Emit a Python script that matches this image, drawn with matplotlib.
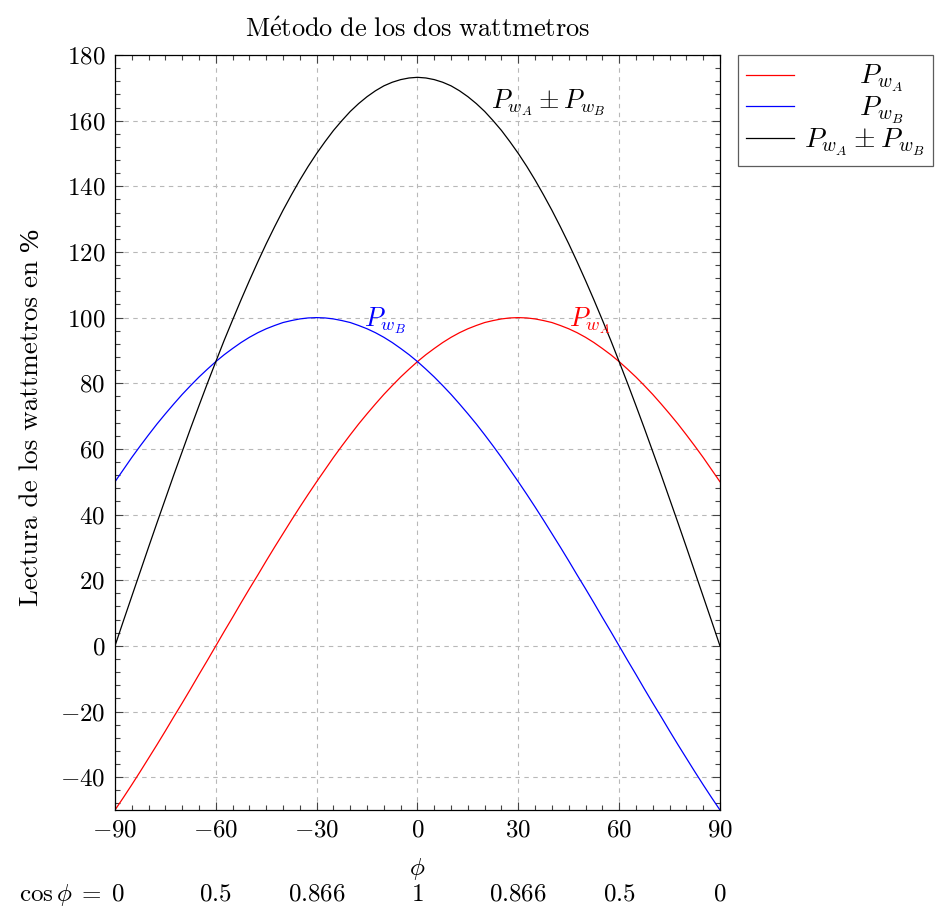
import matplotlib
matplotlib.use('Agg')
import matplotlib.pyplot as plt
import matplotlib.transforms as mtransforms
from matplotlib.ticker import MultipleLocator

plt.rcParams['mathtext.fontset'] = 'cm'
plt.rcParams['font.family'] = 'serif'
plt.rcParams['font.serif'] = ['cmr10']
plt.rcParams['axes.formatter.use_mathtext'] = True

# angle phi (degrees), read every 2.5 degrees
phi = [-90, -87.5, -85, -82.5, -80, -77.5, -75, -72.5, -70, -67.5, -65, -62.5,
       -60, -57.5, -55, -52.5, -50, -47.5, -45, -42.5, -40, -37.5, -35, -32.5,
       -30, -27.5, -25, -22.5, -20, -17.5, -15, -12.5, -10, -7.5, -5, -2.5,
       0, 2.5, 5, 7.5, 10, 12.5, 15, 17.5, 20, 22.5, 25, 27.5,
       30, 32.5, 35, 37.5, 40, 42.5, 45, 47.5, 50, 52.5, 55, 57.5,
       60, 62.5, 65, 67.5, 70, 72.5, 75, 77.5, 80, 82.5, 85, 87.5, 90]

# wattmeter A reading (%)
p_wa = [-50.0, -46.2, -42.3, -38.3, -34.2, -30.1, -25.9, -21.6, -17.4, -13.1,
        -8.7, -4.4, 0.0, 4.4, 8.7, 13.1, 17.4, 21.6, 25.9, 30.1, 34.2, 38.3,
        42.3, 46.2, 50.0, 53.7, 57.4, 60.9, 64.3, 67.6, 70.7, 73.7, 76.6, 79.3,
        81.9, 84.3, 86.6, 88.7, 90.6, 92.4, 94.0, 95.4, 96.6, 97.6, 98.5, 99.1,
        99.6, 99.9, 100.0, 99.9, 99.6, 99.1, 98.5, 97.6, 96.6, 95.4, 94.0, 92.4,
        90.6, 88.7, 86.6, 84.3, 81.9, 79.3, 76.6, 73.7, 70.7, 67.6, 64.3, 60.9,
        57.4, 53.7, 50.0]

# wattmeter B reading (%)
p_wb = [50.0, 53.7, 57.4, 60.9, 64.3, 67.6, 70.7, 73.7, 76.6, 79.3, 81.9, 84.3,
        86.6, 88.7, 90.6, 92.4, 94.0, 95.4, 96.6, 97.6, 98.5, 99.1, 99.6, 99.9,
        100.0, 99.9, 99.6, 99.1, 98.5, 97.6, 96.6, 95.4, 94.0, 92.4, 90.6, 88.7,
        86.6, 84.3, 81.9, 79.3, 76.6, 73.7, 70.7, 67.6, 64.3, 60.9, 57.4, 53.7,
        50.0, 46.2, 42.3, 38.3, 34.2, 30.1, 25.9, 21.6, 17.4, 13.1, 8.7, 4.4,
        0.0, -4.4, -8.7, -13.1, -17.4, -21.6, -25.9, -30.1, -34.2, -38.3,
        -42.3, -46.2, -50.0]

# sum of both readings (%)
p_sum = [0.0, 7.6, 15.1, 22.6, 30.1, 37.5, 44.8, 52.1, 59.2, 66.3, 73.2, 80.0,
         86.6, 93.1, 99.3, 105.4, 111.3, 117.0, 122.5, 127.7, 132.7, 137.4,
         141.9, 146.1, 150.0, 153.6, 157.0, 160.0, 162.8, 165.2, 167.3, 169.1,
         170.6, 171.7, 172.5, 173.0, 173.2, 173.0, 172.5, 171.7, 170.6, 169.1,
         167.3, 165.2, 162.8, 160.0, 157.0, 153.6, 150.0, 146.1, 141.9, 137.4,
         132.7, 127.7, 122.5, 117.0, 111.3, 105.4, 99.3, 93.1, 86.6, 80.0,
         73.2, 66.3, 59.2, 52.1, 44.8, 37.5, 30.1, 22.6, 15.1, 7.6, 0.0]

xticks = [-90, -60, -30, 0, 30, 60, 90]
cos_labels = ['0', '0.5', '0.866', '1', '0.866', '0.5', '0']

lab_a = r'$P_{w_A}$'
lab_b = r'$P_{w_B}$'
lab_s = r'$P_{w_A} \pm P_{w_B}$'


def main():
    fig = plt.figure(figsize=(9.41, 9.09), dpi=100)
    ax = fig.add_axes([0.1222, 0.1089, 0.6429, 0.8306])

    ax.plot(phi, p_wa, color='red', lw=0.9, label=r'$\qquad\;P_{w_A}$')
    ax.plot(phi, p_wb, color='blue', lw=0.9, label=r'$\qquad\;P_{w_B}$')
    ax.plot(phi, p_sum, color='black', lw=0.9, label=lab_s)

    ax.set_xlim(-90, 90)
    ax.set_ylim(-50, 180)
    ax.set_xticks(xticks)
    ax.xaxis.set_minor_locator(MultipleLocator(5))
    ax.yaxis.set_major_locator(MultipleLocator(20))
    ax.yaxis.set_minor_locator(MultipleLocator(4))
    ax.tick_params(which='both', direction='in', top=True, right=True,
                   labelsize=18, width=0.8, color='#444444')
    ax.tick_params(which='major', length=6, pad=7)
    ax.tick_params(which='minor', length=3.5)
    ax.grid(True, which='major', color='#b8b8b8', ls=(0, (4, 4)), lw=0.8)
    for s in ax.spines.values():
        s.set_linewidth(0.9)

    # curve labels
    ax.text(38.8, 165.4, lab_s, fontsize=19, ha='center', va='center')
    ax.text(-9.7, 99.0, lab_b, fontsize=19, color='blue', ha='center', va='center')
    ax.text(51.3, 99.0, lab_a, fontsize=19, color='red', ha='center', va='center')

    ax.set_title(r'$\mathrm{M\acute{e}todo\ de\ los\ dos\ wattmetros}$',
                 fontsize=19, pad=13)
    ylab = ax.set_ylabel('Lectura de los wattmetros en', fontsize=19.5, labelpad=12)
    ylab.set_y(0.5)
    ax.annotate('%', xy=(0.5, 1.0), xycoords=ylab, xytext=(0, 6),
                textcoords='offset points', rotation=90, ha='center', va='bottom',
                family='Liberation Serif', fontsize=20)
    ax.set_xlabel(r'$\phi$', fontsize=18, labelpad=10)

    # cos(phi) row under the axis
    trans = mtransforms.blended_transform_factory(ax.transData, fig.transFigure)
    for x, lab in zip(xticks[1:], cos_labels[1:]):
        ax.text(x, 0.009, '$' + lab + '$', fontsize=18, ha='center', va='baseline',
                transform=trans)
    ax.text(-87.0, 0.009, r'$\cos\phi\;=\;0$', fontsize=18, ha='right',
            va='baseline', transform=trans)

    leg = ax.legend(loc='upper left', bbox_to_anchor=(1.029, 1.0), fontsize=20,
                    frameon=True, fancybox=False, edgecolor='#333333',
                    handlelength=1.75, handletextpad=0.35, borderaxespad=0,
                    labelspacing=0.02, borderpad=0.3)
    leg.get_frame().set_linewidth(0.9)

    plt.savefig('out.png', dpi=100)

if __name__ == '__main__':
    main()
